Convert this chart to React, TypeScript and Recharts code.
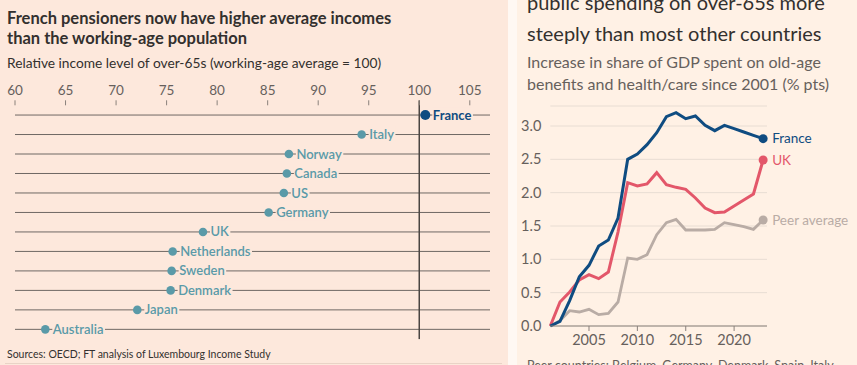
import React from 'react';
import {
  ScatterChart,
  Scatter,
  LineChart,
  Line,
  XAxis,
  YAxis,
  CartesianGrid,
  ReferenceLine,
} from 'recharts';

// left panel: relative income of over-65s
const countries = ['France', 'Italy', 'Norway', 'Canada', 'US', 'Germany', 'UK', 'Netherlands', 'Sweden', 'Denmark', 'Japan', 'Australia'];
const incomeLevels = [100.6, 94.3, 87.1, 86.9, 86.6, 85.1, 78.6, 75.6, 75.5, 75.4, 72.1, 63.0];
const incomeTicks = [60, 65, 70, 75, 80, 85, 90, 95, 100, 105];

// right panel: increase in share of GDP since 2001
const years = [2001, 2002, 2003, 2004, 2005, 2006, 2007, 2008, 2009, 2010, 2011, 2012, 2013, 2014, 2015, 2016, 2017, 2018, 2019, 2020, 2021, 2022, 2023];
const franceSpend = [0, 0.07, 0.38, 0.74, 0.91, 1.2, 1.29, 1.62, 2.5, 2.58, 2.72, 2.9, 3.14, 3.2, 3.11, 3.15, 3.01, 2.93, 3.01, 2.96, 2.91, 2.86, 2.81];
const ukSpend = [0, 0.36, 0.51, 0.69, 0.77, 0.71, 0.81, 1.41, 2.15, 2.1, 2.13, 2.3, 2.12, 2.08, 2.05, 1.92, 1.77, 1.7, 1.71, 1.8, 1.89, 1.98, 2.49];
const peerSpend = [0, 0.08, 0.23, 0.21, 0.25, 0.17, 0.19, 0.36, 1.02, 1.0, 1.07, 1.37, 1.55, 1.6, 1.44, 1.44, 1.44, 1.45, 1.55, 1.52, 1.49, 1.45, 1.59];
const yearTicks = [2005, 2010, 2015, 2020];
const spendTicks = [0, 0.5, 1, 1.5, 2, 2.5, 3];

const FONT = 'Lato, "Open Sans", sans-serif';
const LEFT_BG = '#fde8dc';
const RIGHT_BG = '#fff1e5';
const NAVY = '#0f4c81';
const TEAL = '#5a9aa8';
const RED = '#e3576a';
const GREY = '#b9aca5';
const TEXT = '#33302e';
const MUTED = '#66605c';

const rows = countries.map((country, i) => ({ country, value: incomeLevels[i], row: i + 1 }));
const spendData = years.map((year, i) => ({ year, france: franceSpend[i], uk: ukSpend[i], peer: peerSpend[i] }));

const ctx = typeof document !== 'undefined' ? document.createElement('canvas').getContext('2d') : null;
const textWidth = (t: string, font: string) => {
  if (!ctx) return t.length * 7;
  ctx.font = font;
  return ctx.measureText(t).width;
};

const CountryDot = (props: any) => {
  const { cx, cy, payload } = props;
  const isFrance = payload.country === 'France';
  const color = isFrance ? NAVY : TEAL;
  const weight = isFrance ? 700 : 600;
  const w = textWidth(payload.country, `${weight} 13px Lato`);
  const tx = cx + 7.5;
  return (
    <g>
      <rect x={tx - 0.5} y={cy - 8} width={w + 2} height={16} fill={LEFT_BG} />
      <circle cx={cx} cy={cy} r={isFrance ? 5 : 4.3} fill={color} />
      <text x={tx} y={cy} dy="0.35em" fontSize={13} fontWeight={weight} fill={color} fontFamily={FONT}>
        {payload.country}
      </text>
    </g>
  );
};

const endDot = (color: string, name: string) => (props: any) => {
  const { cx, cy, index } = props;
  if (index !== years.length - 1) return <g key={`${name}-${index}`} />;
  return (
    <g key={`${name}-${index}`}>
      <circle cx={cx} cy={cy} r={4.5} fill={color} />
      <text x={cx + 9} y={cy} dy="0.35em" fontSize={13.5} fill={color} fontFamily={FONT}>
        {name}
      </text>
    </g>
  );
};

const abs = (left: number, top: number, extra: React.CSSProperties = {}): React.CSSProperties => ({
  position: 'absolute',
  left,
  top,
  whiteSpace: 'nowrap',
  fontFamily: FONT,
  ...extra,
});

export default function App() {
  return (
    <div style={{ position: 'absolute', left: 0, top: 0, width: 857, height: 365, overflow: 'hidden', background: '#fff8f3' }}>
      {/* left panel */}
      <div style={{ position: 'absolute', left: 0, top: 0, width: 508, height: 365, background: LEFT_BG }}>
        <div style={abs(7, 8, { fontSize: 16.5, fontWeight: 700, color: TEXT, lineHeight: '20px' })}>
          French pensioners now have higher average incomes
          <br />
          than the working-age population
        </div>
        <div style={abs(7, 54, { fontSize: 13.75, color: TEXT, lineHeight: '18px' })}>
          Relative income level of over-65s (working-age average = 100)
        </div>
        <div style={{ position: 'absolute', left: 0, top: 0 }}>
          <ScatterChart width={508} height={365} margin={{ top: 75.3, right: 18, bottom: 25.9, left: 15 }}>
            <XAxis
              type="number"
              dataKey="value"
              orientation="top"
              height={30}
              domain={[60, 107]}
              ticks={incomeTicks}
              axisLine={false}
              tickLine={{ stroke: '#8a817b' }}
              tickSize={5}
              tickMargin={5}
              tick={{ fill: MUTED, fontSize: 13.5, fontFamily: FONT }}
              allowDataOverflow
            />
            <YAxis type="number" dataKey="row" domain={[0.5, 12.5]} reversed hide />
            {rows.map((r) => (
              <ReferenceLine key={r.country} y={r.row} stroke="#6f6864" strokeWidth={1} />
            ))}
            <ReferenceLine
              segment={[{ x: 100, y: 0.25 }, { x: 100, y: 12.5 }]}
              ifOverflow="visible"
              stroke="#4a4542"
              strokeWidth={1.5}
            />
            <Scatter data={rows} shape={CountryDot} isAnimationActive={false} />
          </ScatterChart>
        </div>
        <div style={abs(7, 347, { fontSize: 10.5, color: TEXT, lineHeight: '14px' })}>
          Sources: OECD; FT analysis of Luxembourg Income Study
        </div>
        <div style={{ position: 'absolute', left: 5, top: 363, width: 497, height: 1, background: '#e9d3c6' }} />
      </div>

      {/* right panel */}
      <div style={{ position: 'absolute', left: 517, top: 0, width: 340, height: 365, background: RIGHT_BG }}>
        <div style={abs(10, -13, { fontSize: 20, color: TEXT, lineHeight: '31px' })}>
          public spending on over-65s more
          <br />
          steeply than most other countries
        </div>
        <div style={abs(10, 51, { fontSize: 16, color: MUTED, lineHeight: '22px' })}>
          Increase in share of GDP spent on old-age
          <br />
          benefits and health/care since 2001 (% pts)
        </div>
        <div style={{ position: 'absolute', left: 0, top: 0 }}>
          <LineChart width={340} height={365} data={spendData} margin={{ top: 106, right: 90, bottom: 9, left: 0 }}>
            <CartesianGrid vertical={false} stroke="#e8ddd3" />
            <XAxis
              type="number"
              dataKey="year"
              height={30}
              domain={[2001, 2023.4]}
              ticks={yearTicks}
              axisLine={{ stroke: '#8a817b' }}
              tickLine={{ stroke: '#8a817b' }}
              tickSize={5}
              tickMargin={4}
              tick={{ fill: MUTED, fontSize: 14.5, fontFamily: FONT }}
            />
            <YAxis
              type="number"
              domain={[0, 3.3]}
              ticks={spendTicks}
              interval={0}
              width={33.3}
              axisLine={false}
              tickLine={false}
              tickMargin={3}
              tickFormatter={(v: number) => v.toFixed(1)}
              tick={{ fill: MUTED, fontSize: 14.5, fontFamily: FONT }}
            />
            <Line type="linear" dataKey="peer" stroke={GREY} strokeWidth={2.8} dot={endDot(GREY, 'Peer average')} isAnimationActive={false} />
            <Line type="linear" dataKey="uk" stroke={RED} strokeWidth={3} dot={endDot(RED, 'UK')} isAnimationActive={false} />
            <Line type="linear" dataKey="france" stroke={NAVY} strokeWidth={3} dot={endDot(NAVY, 'France')} isAnimationActive={false} />
          </LineChart>
        </div>
        <div style={abs(10, 358, { fontSize: 12.5, color: MUTED, lineHeight: '16px' })}>
          Peer countries: Belgium, Germany, Denmark, Spain, Italy
        </div>
      </div>
    </div>
  );
}
